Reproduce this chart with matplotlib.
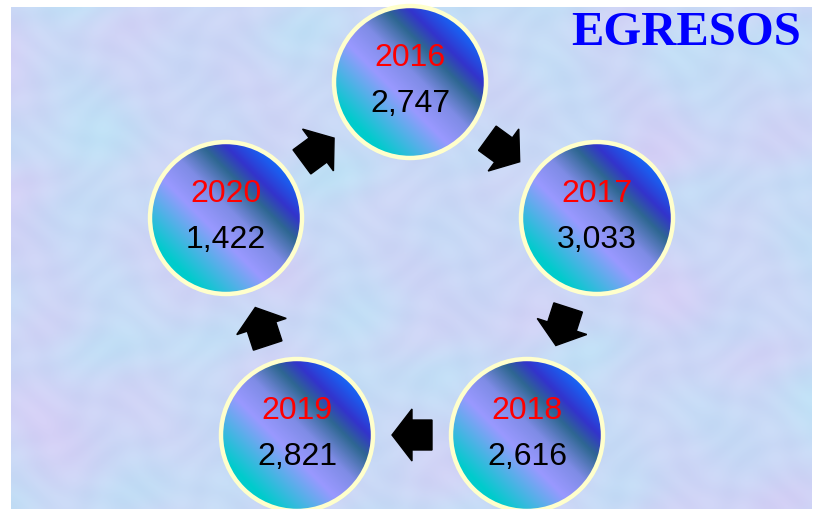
import numpy as np
import matplotlib
matplotlib.use("Agg")
import matplotlib.pyplot as plt
from matplotlib.patches import Circle, Polygon
from matplotlib.colors import LinearSegmentedColormap

# data
years = ["2016", "2017", "2018", "2019", "2020"]
egresos = [2747, 3033, 2616, 2821, 1422]
title = "EGRESOS"

# layout (pixel coords, y down)
cx = [410, 597, 527, 297, 226]
cy = [82, 218, 435, 435, 218]
radius = 76

fig = plt.figure(figsize=(8.2, 5.09), dpi=100)
ax = fig.add_axes([0, 0, 1, 1])
ax.set_xlim(0, 820)
ax.set_ylim(509, 0)
ax.axis("off")

# mottled light background
yy, xx = np.mgrid[0:502, 0:801].astype(float)
n1 = np.sin(xx / 9.3 + 1.5 * np.sin(yy / 14.0)) * np.cos(yy / 8.1 + 1.5 * np.cos(xx / 17.0))
n2 = np.sin(xx / 31.0 + yy / 43.0 + np.sin(yy / 27.0)) * np.sin(yy / 37.0 - xx / 53.0)
n3 = np.sin(xx / 61.0 - yy / 47.0) * np.cos(yy / 71.0 + xx / 83.0)
bg = np.zeros((502, 801, 3))
bg[..., 0] = 202 + 3 * n1 + 6 * n2 - 5 * n3
bg[..., 1] = 216 + 3 * n1 - 4 * n2 + 5 * n3
bg[..., 2] = 246 + 1.5 * n1
ax.imshow(np.clip(bg, 0, 255) / 255, extent=(11, 812, 509, 7), zorder=0, interpolation="bilinear")

cmap = LinearSegmentedColormap.from_list("peacock", [
    (0.0, "#00CCCC"), (0.18, "#00CCCC"), (0.42, "#9999FF"), (0.54, "#7F8CE6"),
    (0.66, "#2E6792"), (0.74, "#3333CC"), (0.87, "#1170FF"), (1.0, "#1170FF")])
gx, gy = np.meshgrid(np.linspace(0, 1, 200), np.linspace(0, 1, 200))
grad = (gx + 1 - gy) / 2

# arrows between consecutive circles
for i in range(5):
    j = (i + 1) % 5
    mx, my = (cx[i] + cx[j]) / 2, (cy[i] + cy[j]) / 2
    d = np.array([cx[j] - cx[i], cy[j] - cy[i]], float)
    u = d / np.linalg.norm(d)
    v = np.array([-u[1], u[0]])
    local = [(-20, -15), (0, -15), (0, -26), (20, 0), (0, 26), (0, 15), (-20, 15)]
    pts = [(mx + a * u[0] + b * v[0], my + a * u[1] + b * v[1]) for a, b in local]
    ax.add_patch(Polygon(pts, closed=True, color="black", zorder=2))

for i in range(5):
    im = ax.imshow(grad, cmap=cmap, vmin=0, vmax=1,
                   extent=(cx[i] - radius, cx[i] + radius, cy[i] + radius, cy[i] - radius),
                   zorder=3, interpolation="bilinear")
    clip = Circle((cx[i], cy[i]), radius, transform=ax.transData)
    im.set_clip_path(clip)
    ax.add_patch(Circle((cx[i], cy[i]), radius, facecolor="none", edgecolor="#FFFFCC",
                        linewidth=3.2, zorder=4))
    ax.text(cx[i], cy[i] - 24, years[i], color="#FF0000", fontsize=23,
            family="Liberation Sans", ha="center", va="center", zorder=5)
    ax.text(cx[i], cy[i] + 22, f"{egresos[i]:,}", color="black", fontsize=23,
            family="Liberation Sans", ha="center", va="center", zorder=5)

ax.text(686, 33, title, color="#0000FF", fontsize=35, fontweight="bold",
        family="Liberation Serif", ha="center", va="center", zorder=5)

fig.savefig("out.png", dpi=100)
